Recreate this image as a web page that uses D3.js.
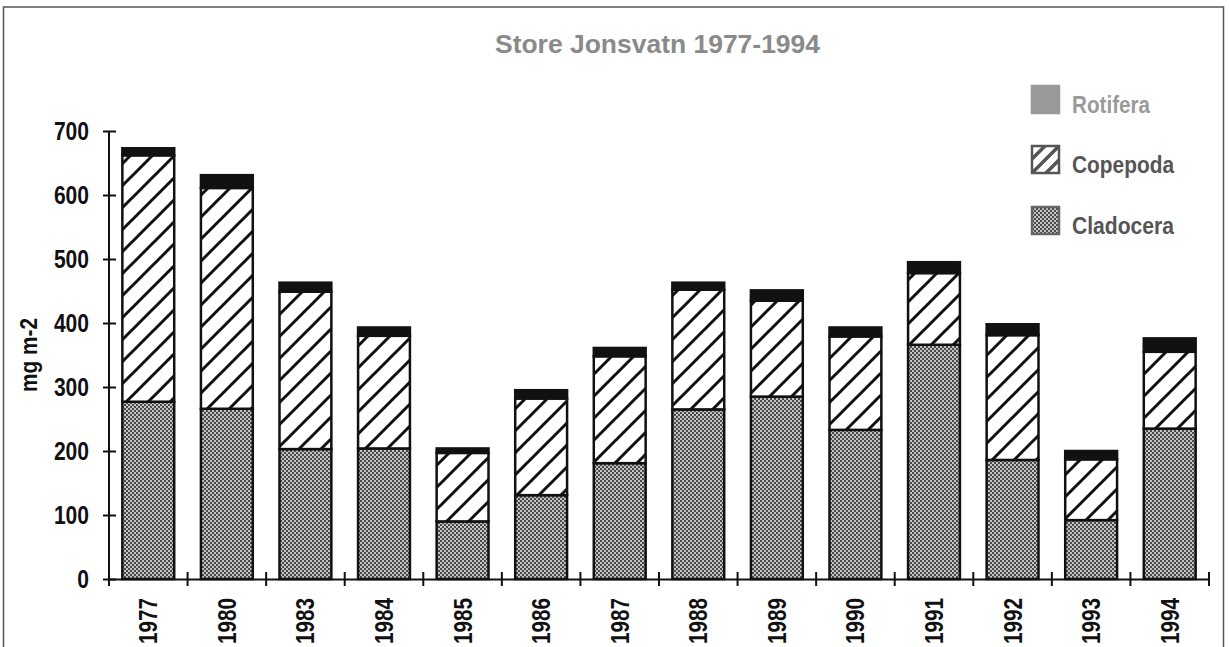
<!DOCTYPE html>
<html><head><meta charset="utf-8">
<script src="https://cdn.jsdelivr.net/npm/d3@7"></script>
<style>body{margin:0;background:#fff}</style>
</head><body>
<svg id="c" width="1229" height="647"></svg>
<script>
const years = ["1977","1980","1983","1984","1985","1986","1987","1988","1989","1990","1991","1992","1993","1994"];
const cladocera = [277,266,203,204,90,131,181,265,285,233,366,186,92,235];
const copepoda  = [385,345,246,176,107,151,167,187,150,146,112,195,95,120];
const rotifera  = [11,20,14,13,7,13,13,11,16,14,17,17,13,21];
const seriesNames = ["Cladocera","Copepoda","Rotifera"];
const yTicks = [0,100,200,300,400,500,600,700];
const title = "Store Jonsvatn 1977-1994";
const yLabel = "mg m-2";

const FONT = "'Liberation Sans',Arial,sans-serif";
const svg = d3.select("#c");
const defs = svg.append("defs");
// hatch pattern
const hp = defs.append("pattern").attr("id","hatch").attr("patternUnits","userSpaceOnUse")
  .attr("width",22).attr("height",22);
hp.append("rect").attr("width",22).attr("height",22).attr("fill","#fff");
hp.append("path").attr("d","M0,22 L22,0 M-11,11 L11,-11 M11,33 L33,11")
  .attr("stroke","#111").attr("stroke-width",3);
// stipple pattern
const sp = defs.append("pattern").attr("id","stip").attr("patternUnits","userSpaceOnUse")
  .attr("width",4).attr("height",4);
sp.append("rect").attr("width",4).attr("height",4).attr("fill","#c4c4c4");
sp.append("rect").attr("width",2).attr("height",2).attr("fill","#4a4a4a");
sp.append("rect").attr("x",2).attr("y",2).attr("width",2).attr("height",2).attr("fill","#4a4a4a");

const fills = {Cladocera:"url(#stip)", Copepoda:"url(#hatch)", Rotifera:"#111"};

// frame
svg.append("rect").attr("x",3.5).attr("y",7).attr("width",1220).attr("height",660)
  .attr("fill","none").attr("stroke","#555").attr("stroke-width",1.5);

const x0 = 109, x1 = 1209, yTop = 131, yBot = 579;
const x = d3.scaleBand().domain(years).range([x0,x1]).paddingInner(0.34).paddingOuter(0.17);
const y = d3.scaleLinear().domain([0,700]).range([yBot,yTop]);

const table = years.map((yr,i)=>({year:yr, Cladocera:cladocera[i], Copepoda:copepoda[i], Rotifera:rotifera[i]}));
const stack = d3.stack().keys(seriesNames)(table);

const g = svg.append("g");
stack.forEach(s=>{
  g.selectAll(null).data(s).join("rect")
    .attr("x",d=>x(d.data.year)).attr("width",x.bandwidth())
    .attr("y",d=>y(d[1])).attr("height",d=>y(d[0])-y(d[1]))
    .attr("fill",fills[s.key]).attr("stroke","#111").attr("stroke-width",2.5);
});

// y axis
const ya = svg.append("g").attr("transform",`translate(${x0},0)`)
  .call(d3.axisLeft(y).tickValues(yTicks).tickSize(6).tickPadding(14));
ya.select(".domain").attr("stroke","#111").attr("stroke-width",2).attr("d",`M0,${yBot}V${yTop}`);
ya.selectAll(".tick line").attr("x1",-6).attr("x2",7).attr("stroke","#111").attr("stroke-width",2);
ya.selectAll(".tick text").attr("font-family",FONT)
  .attr("font-weight","bold").attr("font-size",25).attr("fill","#111")
  .attr("textLength",d=>String(d).length*11.7).attr("lengthAdjust","spacingAndGlyphs");

// x axis (band boundaries)
const step = x.step();
const bounds = d3.range(years.length+1).map(i=>x(years[0]) - (step - x.bandwidth())/2 + i*step);
const xa = svg.append("g").attr("transform",`translate(0,${yBot})`)
  .call(d3.axisBottom(d3.scaleLinear().domain([0,1]).range([x0,x1])).tickValues([]).tickSizeOuter(0));
xa.select(".domain").attr("stroke","#111").attr("stroke-width",2);
xa.selectAll(null).data(bounds).join("line")
  .attr("x1",d=>d).attr("x2",d=>d).attr("y1",-7).attr("y2",7)
  .attr("stroke","#111").attr("stroke-width",2);
xa.selectAll(null).data(years).join("text")
  .attr("transform",d=>`translate(${x(d)+x.bandwidth()/2},19) rotate(-90)`)
  .attr("text-anchor","end").attr("dy","0.36em")
  .attr("font-family",FONT).attr("textLength",46).attr("lengthAdjust","spacingAndGlyphs")
  .attr("font-weight","bold").attr("font-size",25).attr("fill","#111").text(d=>d);

// y label
svg.append("text").attr("transform","translate(29,355) rotate(-90)")
  .attr("text-anchor","middle").attr("dy","0.36em")
  .attr("font-family",FONT).attr("textLength",74).attr("lengthAdjust","spacingAndGlyphs")
  .attr("font-weight","bold").attr("font-size",23).attr("fill","#111").text(yLabel);

// title
svg.append("text").attr("x",495).attr("y",53).attr("textLength",325).attr("lengthAdjust","spacingAndGlyphs")
  .attr("font-family",FONT).attr("font-weight","bold")
  .attr("font-size",25).attr("fill","#8a8a8a").text(title);

// legend
const legend = [
  {name:"Rotifera", fill:"#999", stroke:"#999", color:"#9a9a9a", y:86, w:78},
  {name:"Copepoda", fill:"url(#hatchL)", stroke:"#555", color:"#555", y:146, w:102},
  {name:"Cladocera", fill:"url(#stip)", stroke:"#666", color:"#555", y:207, w:102}
];
const hl = defs.append("pattern").attr("id","hatchL").attr("patternUnits","userSpaceOnUse")
  .attr("width",14).attr("height",14).attr("x",1031).attr("y",146);
hl.append("rect").attr("width",14).attr("height",14).attr("fill","#fff");
hl.append("path").attr("d","M0,14 L14,0 M-7,7 L7,-7 M7,21 L21,7").attr("stroke","#555").attr("stroke-width",3.5);
const lg = svg.append("g");
legend.forEach(l=>{
  lg.append("rect").attr("x",1032).attr("y",l.y).attr("width",27).attr("height",27)
    .attr("fill",l.fill).attr("stroke",l.stroke).attr("stroke-width",2.5);
  lg.append("text").attr("x",1072).attr("y",l.y+27)
    .attr("font-family",FONT).attr("font-weight","bold")
    .attr("textLength",l.w).attr("lengthAdjust","spacingAndGlyphs")
    .attr("font-size",24).attr("fill",l.color).text(l.name);
});
</script>
</body></html>
